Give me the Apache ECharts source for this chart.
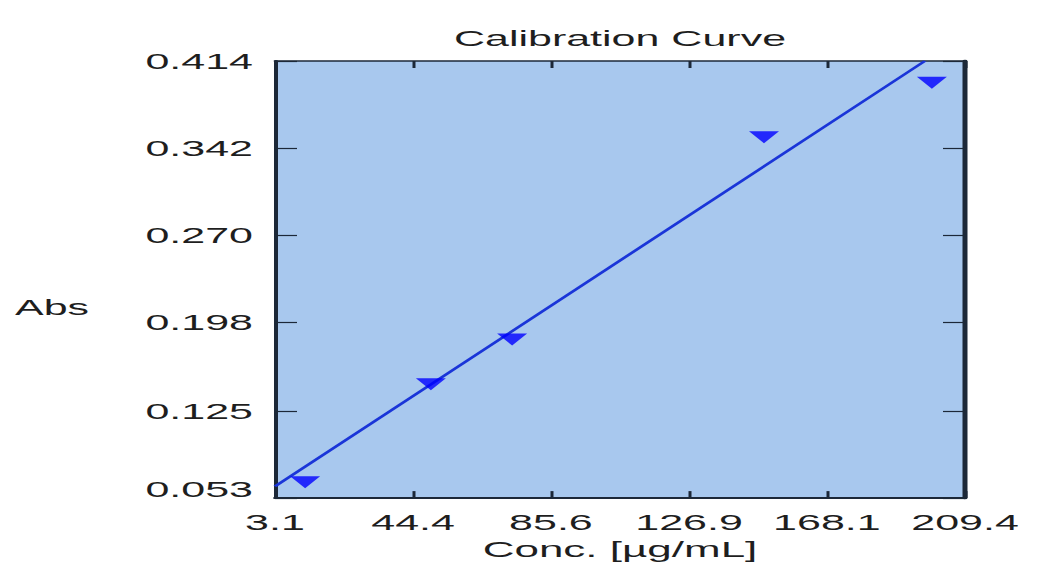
<!DOCTYPE html>
<html><head><meta charset="utf-8">
<script src="https://cdn.jsdelivr.net/npm/echarts@6/dist/echarts.min.js"></script>
<style>
html,body{margin:0;padding:0;background:#fff;overflow:hidden}
#wrap{width:519px;height:565px;transform:scaleX(2);transform-origin:0 0}
#chart{width:519px;height:565px}
</style></head>
<body><div id="wrap"><div id="chart"></div></div>
<script>
const chartTitle = 'Calibration Curve';
const xName = 'Conc. [µg/mL]';
const yName = 'Abs';
const xTicks = [3.1, 44.4, 85.6, 126.9, 168.1, 209.4];
const yTicks = [0.053, 0.125, 0.198, 0.270, 0.342, 0.414];
const concValues = [12.1, 49.7, 74.0, 149.3, 199.5];
const absValues = [0.066, 0.147, 0.184, 0.351, 0.396];
const fitX = [3.1, 197.4];
const fitY = [0.0627, 0.414];

const FONT = "'Liberation Sans', Arial, sans-serif";
const AX = '#1c2838';
const TXT = '#1e1e1e';

const chart = echarts.init(document.getElementById('chart'), null, {renderer: 'svg', width: 519, height: 565});

const points = concValues.map((x, i) => [x, absValues[i]]);
const fit = fitX.map((x, i) => [x, fitY[i]]);

const xMin = xTicks[0], xMax = xTicks[xTicks.length - 1];
const yMin = yTicks[0], yMax = yTicks[yTicks.length - 1];

chart.setOption({
  animation: false,
  backgroundColor: '#ffffff',
  title: {
    text: chartTitle, left: 310, top: 27, textAlign: 'center', padding: 0,
    textStyle: {fontFamily: FONT, fontSize: 21.5, fontWeight: 'normal', color: TXT}
  },
  grid: {left: 137.5, right: 36.5, top: 61, bottom: 58, show: true, backgroundColor: '#a8c8ee', borderWidth: 0},
  xAxis: [{
    type: 'value', position: 'bottom', min: xMin, max: xMax,
    name: xName, nameLocation: 'middle', nameGap: 31,
    nameTextStyle: {fontFamily: FONT, fontSize: 22, color: TXT},
    axisLine: {show: true, lineStyle: {color: AX, width: 2}},
    axisTick: {show: true, inside: true, length: 7, customValues: xTicks, lineStyle: {color: AX, width: 1.5}},
    axisLabel: {show: true, customValues: xTicks, margin: 13, fontFamily: FONT, fontSize: 21.5, color: TXT,
      formatter: v => v.toFixed(1)},
    splitLine: {show: false}
  }, {
    type: 'value', position: 'top', min: xMin, max: xMax,
    axisLine: {show: true, lineStyle: {color: AX, width: 1.5}},
    axisTick: {show: true, inside: true, length: 7, customValues: xTicks, lineStyle: {color: AX, width: 1.5}},
    axisLabel: {show: false},
    splitLine: {show: false}
  }],
  yAxis: [{
    type: 'value', position: 'left', min: yMin, max: yMax,
    axisLine: {show: true, lineStyle: {color: AX, width: 2}},
    axisTick: {show: true, inside: true, length: 11, customValues: yTicks, lineStyle: {color: AX, width: 1.2}},
    axisLabel: {show: true, customValues: yTicks, margin: 11, fontFamily: FONT, fontSize: 21.5, color: TXT,
      formatter: v => (v === yMin ? '{low|' + v.toFixed(3) + '}' : v.toFixed(3)),
      rich: {low: {fontFamily: FONT, fontSize: 21.5, color: TXT, padding: [0, 0, 18, 0]}}},
    splitLine: {show: false}
  }, {
    type: 'value', position: 'right', min: yMin, max: yMax,
    axisLine: {show: true, lineStyle: {color: AX, width: 2.5}},
    axisTick: {show: true, inside: true, length: 11, customValues: yTicks, lineStyle: {color: AX, width: 1.2}},
    axisLabel: {show: false},
    splitLine: {show: false}
  }],
  graphic: [{
    type: 'text', left: 7.5, top: 296,
    style: {text: yName, font: "21.5px 'Liberation Sans', Arial, sans-serif", fill: TXT}
  }],
  series: [{
    type: 'line', data: fit, xAxisIndex: 0, yAxisIndex: 0,
    showSymbol: false, clip: true, z: 2,
    lineStyle: {color: '#1a35d8', width: 2}
  }, {
    type: 'scatter', data: points, xAxisIndex: 0, yAxisIndex: 0,
    symbol: 'triangle', symbolRotate: 180, symbolSize: [15, 12], z: 3,
    itemStyle: {color: '#0000ff'}
  }]
});
</script>
</body></html>
